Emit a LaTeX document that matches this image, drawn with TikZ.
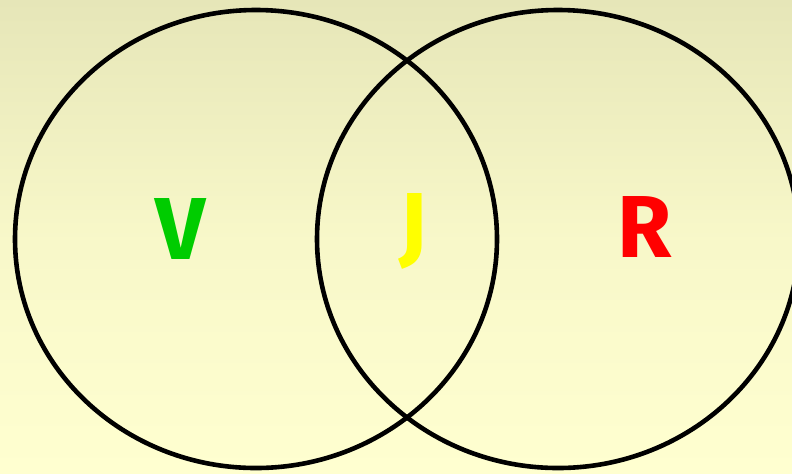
\documentclass[tikz,border=0pt]{standalone}
\usepackage{fontspec}
\setmainfont{Fira Sans}
\definecolor{bgtop}{HTML}{E6E6B8}
\definecolor{bgbot}{HTML}{FFFFD0}
\definecolor{vgreen}{HTML}{00CC00}
\definecolor{jyellow}{HTML}{FFFF00}
\definecolor{rred}{HTML}{FF0000}

\begin{document}
\begin{tikzpicture}[x=0.5pt, y=-0.5pt, line width=2.3pt]
  \tikzset{letter/.style={font=\fontsize{44}{44}\selectfont\bfseries, inner sep=0pt}}
  \shade[top color=bgtop, bottom color=bgbot, middle color=bgbot!70!bgtop]
    (0,0) rectangle (792,473);
  \useasboundingbox (0,0) rectangle (792,473);
  \coordinate (L) at (256,239);
  \coordinate (Rc) at (558,239);
  \draw (L) ellipse [x radius=241, y radius=229];
  \draw (Rc) ellipse [x radius=241, y radius=229];
  \node[letter, text=vgreen] (v) at (181,229) {V};
  \node[letter, text=jyellow] (j) at (413,231) {J};
  \node[letter, text=rred] (r) at (645,227) {R};
\end{tikzpicture}
\end{document}
